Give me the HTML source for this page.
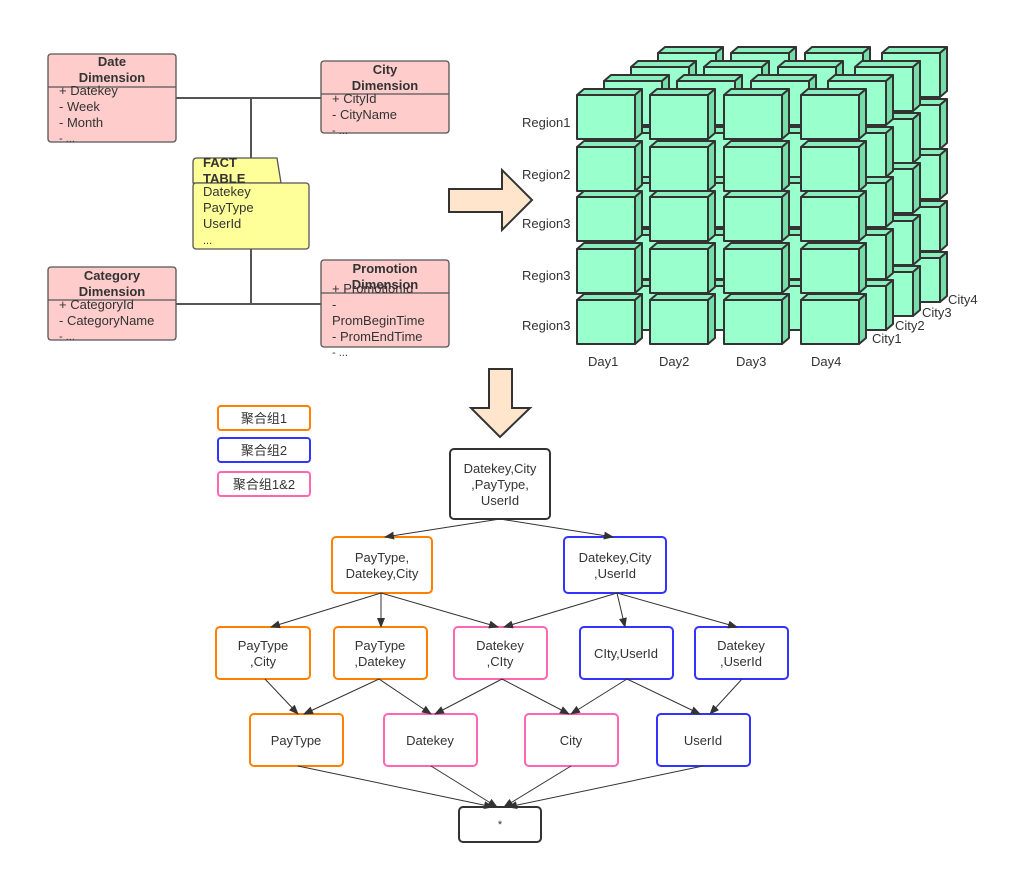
<!DOCTYPE html>
<html><head><meta charset="utf-8"><style>
html,body{margin:0;padding:0;background:#fff;}
svg{display:block;}
text{font-family:"Liberation Sans","Noto Sans CJK SC",sans-serif;fill:#333;}
</style></head><body>
<svg id="s" width="1023" height="875" viewBox="0 0 1023 875" xmlns="http://www.w3.org/2000/svg">
<defs><marker id="ah" markerWidth="10" markerHeight="8" refX="9" refY="4" orient="auto" markerUnits="userSpaceOnUse"><path d="M0,0 L10,4 L0,8 z" fill="#333"/></marker></defs>
<rect width="1023" height="875" fill="#fff"/>
<!-- UML connectors -->
<g stroke="#555" stroke-width="2" fill="none">
<line x1="176" y1="98" x2="321" y2="98"/><line x1="251" y1="98" x2="251" y2="158"/>
<line x1="251" y1="249" x2="251" y2="304"/><line x1="176" y1="304" x2="321" y2="304"/>
</g>
<g stroke="#555" stroke-width="1.3" fill="#ffcccc">
<rect x="48" y="54" width="128" height="88" rx="3"/><line x1="48" y1="87" x2="176" y2="87"/>
<rect x="321" y="61" width="128" height="72" rx="3"/><line x1="321" y1="94" x2="449" y2="94"/>
<rect x="48" y="267" width="128" height="73" rx="3"/><line x1="48" y1="300" x2="176" y2="300"/>
<rect x="321" y="260" width="128" height="87" rx="3"/><line x1="321" y1="293" x2="449" y2="293"/>
<path d="M193,183 L193,162 Q193,158 197,158 L277,158 L281,183 Z" fill="#ffff99"/>
<rect x="193" y="183" width="116" height="66" rx="3" fill="#ffff99"/>
</g>
<g font-size="13">
<text x="112" y="66" text-anchor="middle" font-weight="bold">Date</text>
<text x="112" y="82" text-anchor="middle" font-weight="bold">Dimension</text>
<text x="59" y="95">+ Datekey</text><text x="59" y="111">- Week</text><text x="59" y="127">- Month</text><text x="59" y="142" font-size="11">- ...</text>
<text x="385" y="74" text-anchor="middle" font-weight="bold">City</text>
<text x="385" y="90" text-anchor="middle" font-weight="bold">Dimension</text>
<text x="332" y="103">+ CityId</text><text x="332" y="119">- CityName</text><text x="332" y="134" font-size="11">- ...</text>
<text x="112" y="280" text-anchor="middle" font-weight="bold">Category</text>
<text x="112" y="296" text-anchor="middle" font-weight="bold">Dimension</text>
<text x="59" y="309">+ CategoryId</text><text x="59" y="325">- CategoryName</text><text x="59" y="340" font-size="11">- ...</text>
<text x="385" y="273" text-anchor="middle" font-weight="bold">Promotion</text>
<text x="385" y="289" text-anchor="middle" font-weight="bold">Dimension</text>
<text x="332" y="293">+ PromotionId</text><text x="332" y="309">-</text><text x="332" y="325">PromBeginTime</text><text x="332" y="341">- PromEndTime</text><text x="332" y="356" font-size="11">- ...</text>
<text x="203" y="167" font-weight="bold">FACT</text><text x="203" y="183" font-weight="bold">TABLE</text>
<text x="203" y="196">Datekey</text><text x="203" y="212">PayType</text><text x="203" y="228">UserId</text><text x="203" y="244" font-size="11">...</text>
</g>
<!-- big arrows -->
<path d="M449,189 L502,189 L502,170 L532,200 L502,230 L502,212 L449,212 Z" fill="#ffe5cc" stroke="#333" stroke-width="2"/>
<path d="M489,369 L512,369 L512,408 L530,408 L500,437 L471,408 L489,408 Z" fill="#ffe5cc" stroke="#333" stroke-width="2"/>
<g id="cubes"></g>
<g font-size="13">
<text x="522" y="127">Region1</text><text x="522" y="179">Region2</text><text x="522" y="228">Region3</text><text x="522" y="280">Region3</text><text x="522" y="330">Region3</text>
<text x="588" y="366">Day1</text><text x="659" y="366">Day2</text><text x="736" y="366">Day3</text><text x="811" y="366">Day4</text>
<text x="872" y="343">City1</text><text x="895" y="330">City2</text><text x="922" y="317">City3</text><text x="948" y="304">City4</text>
</g>
<!-- legend -->
<g stroke-width="2" fill="#fff">
<rect x="218" y="406" width="92" height="24" rx="3" stroke="#ff8000"/>
<rect x="218" y="438" width="92" height="24" rx="3" stroke="#3333ff"/>
<rect x="218" y="472" width="92" height="24" rx="3" stroke="#ff66b3"/>
</g>
<g font-size="13" text-anchor="middle">
<text x="264" y="423">聚合组1</text><text x="264" y="455">聚合组2</text><text x="264" y="489">聚合组1&amp;2</text>
</g>
<!-- lattice nodes -->
<g stroke-width="2" fill="#fff">
<rect x="450" y="449" width="100" height="70" rx="4" stroke="#333"/>
<rect x="332" y="537" width="100" height="56" rx="4" stroke="#ff8000"/>
<rect x="564" y="537" width="102" height="56" rx="4" stroke="#3333ff"/>
<rect x="216" y="627" width="94" height="52" rx="4" stroke="#ff8000"/>
<rect x="334" y="627" width="93" height="52" rx="4" stroke="#ff8000"/>
<rect x="454" y="627" width="93" height="52" rx="4" stroke="#ff66b3"/>
<rect x="580" y="627" width="93" height="52" rx="4" stroke="#3333ff"/>
<rect x="695" y="627" width="93" height="52" rx="4" stroke="#3333ff"/>
<rect x="250" y="714" width="93" height="52" rx="4" stroke="#ff8000"/>
<rect x="384" y="714" width="93" height="52" rx="4" stroke="#ff66b3"/>
<rect x="525" y="714" width="93" height="52" rx="4" stroke="#ff66b3"/>
<rect x="657" y="714" width="93" height="52" rx="4" stroke="#3333ff"/>
<rect x="459" y="807" width="82" height="35" rx="4" stroke="#333"/>
</g>
<g font-size="13" text-anchor="middle">
<text x="500" y="473">Datekey,City</text><text x="500" y="489">,PayType,</text><text x="500" y="505">UserId</text>
<text x="382" y="562">PayType,</text><text x="382" y="578">Datekey,City</text>
<text x="615" y="562">Datekey,City</text><text x="615" y="578">,UserId</text>
<text x="263" y="650">PayType</text><text x="263" y="666">,City</text>
<text x="380" y="650">PayType</text><text x="380" y="666">,Datekey</text>
<text x="500" y="650">Datekey</text><text x="500" y="666">,CIty</text>
<text x="626" y="658">CIty,UserId</text>
<text x="741" y="650">Datekey</text><text x="741" y="666">,UserId</text>
<text x="296" y="745">PayType</text><text x="430" y="745">Datekey</text><text x="571" y="745">City</text><text x="703" y="745">UserId</text>
<text x="500" y="828" font-size="11">*</text>
</g>
<g stroke="#333" stroke-width="1" marker-end="url(#ah)">
<line x1="500" y1="519" x2="385" y2="537"/><line x1="500" y1="519" x2="613" y2="537"/>
<line x1="381" y1="593" x2="271" y2="627"/><line x1="381" y1="593" x2="381" y2="627"/><line x1="381" y1="593" x2="498" y2="627"/>
<line x1="617" y1="593" x2="504" y2="627"/><line x1="617" y1="593" x2="625" y2="627"/><line x1="617" y1="593" x2="737" y2="627"/>
<line x1="265" y1="679" x2="298" y2="714"/><line x1="379" y1="679" x2="304" y2="714"/><line x1="379" y1="679" x2="431" y2="714"/>
<line x1="502" y1="679" x2="435" y2="714"/><line x1="502" y1="679" x2="569" y2="714"/>
<line x1="627" y1="679" x2="571" y2="714"/><line x1="627" y1="679" x2="700" y2="714"/><line x1="742" y1="679" x2="710" y2="714"/>
<line x1="298" y1="766" x2="493" y2="807"/><line x1="431" y1="766" x2="497" y2="807"/><line x1="571" y1="766" x2="504" y2="807"/><line x1="703" y1="766" x2="508" y2="807"/>
</g>
</svg>
<script>
(function(){
var g=document.getElementById('cubes'),ns='http://www.w3.org/2000/svg',h='';
var cols=[577,650,724,801],rows=[95,147,197,249,300],W=58,H=44,d=7,t=6;
for(var k=3;k>=0;k--){var ox=27*k,oy=-14*k;
for(var r=0;r<5;r++)for(var c=0;c<4;c++){var x=cols[c]+ox,y=rows[r]+oy;
h+='<path d="M'+x+','+y+' L'+(x+d)+','+(y-t)+' L'+(x+W+d)+','+(y-t)+' L'+(x+W)+','+y+' Z" fill="#88eebb"/>';
h+='<path d="M'+(x+W)+','+y+' L'+(x+W+d)+','+(y-t)+' L'+(x+W+d)+','+(y+H-t)+' L'+(x+W)+','+(y+H)+' Z" fill="#77dda8"/>';
h+='<rect x="'+x+'" y="'+y+'" width="'+W+'" height="'+H+'" fill="#99ffcc"/>';}}
var tmp=document.createElementNS(ns,'g');tmp.setAttribute('stroke','#333');tmp.setAttribute('stroke-width','2');tmp.setAttribute('stroke-linejoin','round');
tmp.innerHTML=h;g.appendChild(tmp);
})();
</script>
</body></html>
